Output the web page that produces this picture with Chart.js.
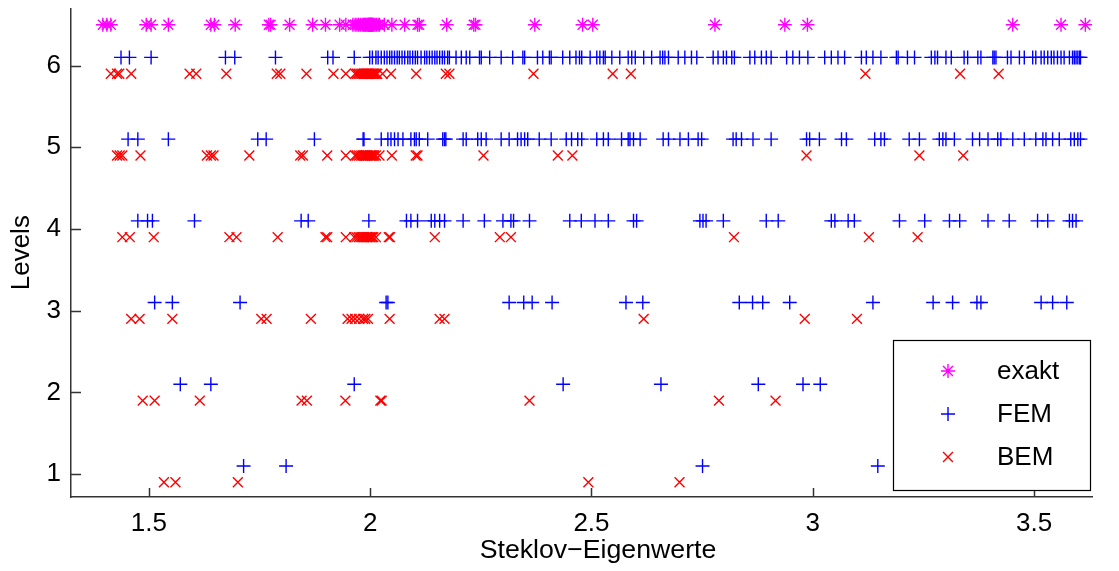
<!DOCTYPE html>
<html>
<head>
<meta charset="utf-8">
<script src="https://cdn.jsdelivr.net/npm/chart.js@4.4.1/dist/chart.umd.min.js"></script>
<style>
  html, body { margin: 0; padding: 0; background: #fff; }
  #wrap { width: 1119px; height: 571px; }
</style>
</head>
<body>
<div id="wrap"><canvas id="chart" width="1119" height="571"></canvas></div>
<script>
// tick labels
const xTicks = [1.5, 2, 2.5, 3, 3.5];
const yTicks = [1, 2, 3, 4, 5, 6];
const seriesNames = ['exakt', 'FEM', 'BEM'];
const xLabel = 'Steklov\u2212Eigenwerte';
const yLabel = 'Levels';

// rows: exact values sit at 6.5, FEM/BEM are shifted a bit above/below their level
const exaktLevel = 6.5;
const femShift = 0.1;
const bemShift = -0.1;

const exakt = [1.396, 1.405, 1.414, 1.494, 1.505, 1.544, 1.640, 1.648, 1.695, 1.771, 1.775, 1.818,
  1.870, 1.899, 1.931, 1.945, 1.961, 1.966, 1.970, 1.974, 1.978, 1.982, 1.985, 1.987, 1.989, 1.991,
  1.993, 1.995, 1.996, 1.997, 1.998, 1.999, 2.000, 2.001, 2.001, 2.002, 2.003, 2.004, 2.005, 2.006,
  2.008, 2.011, 2.014, 2.018, 2.021, 2.032, 2.049, 2.078, 2.107, 2.111, 2.173, 2.234, 2.238, 2.372,
  2.480, 2.503, 2.779, 2.937, 2.988, 3.452, 3.561, 3.616];

const fem6 = [1.437, 1.456, 1.505, 1.673, 1.694, 1.786, 1.904, 1.916, 1.964, 1.999, 2.005, 2.013,
  2.018, 2.025, 2.032, 2.038, 2.044, 2.049, 2.055, 2.061, 2.066, 2.072, 2.078, 2.085, 2.090, 2.096,
  2.102, 2.107, 2.115, 2.123, 2.128, 2.134, 2.140, 2.146, 2.151, 2.157, 2.163, 2.168, 2.175, 2.179,
  2.194, 2.206, 2.217, 2.225, 2.247, 2.251, 2.270, 2.296, 2.322, 2.345, 2.349, 2.378, 2.390, 2.405,
  2.409, 2.435, 2.451, 2.465, 2.473, 2.478, 2.497, 2.512, 2.519, 2.527, 2.531, 2.546, 2.564, 2.583,
  2.591, 2.599, 2.618, 2.636, 2.655, 2.661, 2.666, 2.674, 2.696, 2.711, 2.726, 2.738, 2.775, 2.786,
  2.798, 2.805, 2.817, 2.823, 2.858, 2.869, 2.884, 2.895, 2.906, 2.941, 2.955, 2.970, 2.989, 3.027,
  3.042, 3.057, 3.072, 3.110, 3.121, 3.136, 3.154, 3.189, 3.193, 3.214, 3.230, 3.268, 3.276, 3.282,
  3.301, 3.313, 3.342, 3.350, 3.373, 3.380, 3.407, 3.410, 3.414, 3.440, 3.448, 3.467, 3.478, 3.497,
  3.504, 3.516, 3.523, 3.531, 3.539, 3.545, 3.553, 3.561, 3.568, 3.580, 3.587, 3.591, 3.595, 3.599,
  3.603, 3.605];
const fem5 = [1.453, 1.475, 1.544, 1.746, 1.765, 1.874, 1.984, 1.986, 2.025, 2.040, 2.047, 2.055,
  2.063, 2.074, 2.092, 2.100, 2.104, 2.111, 2.130, 2.164, 2.168, 2.171, 2.210, 2.217, 2.243, 2.251,
  2.262, 2.296, 2.314, 2.333, 2.341, 2.349, 2.356, 2.382, 2.409, 2.443, 2.455, 2.469, 2.478, 2.512,
  2.527, 2.538, 2.568, 2.583, 2.587, 2.595, 2.610, 2.662, 2.674, 2.700, 2.719, 2.741, 2.749, 2.820,
  2.827, 2.839, 2.865, 2.906, 2.986, 2.993, 3.015, 3.065, 3.076, 3.140, 3.154, 3.162, 3.218, 3.241,
  3.286, 3.294, 3.301, 3.320, 3.361, 3.377, 3.396, 3.418, 3.425, 3.452, 3.478, 3.504, 3.520, 3.527,
  3.542, 3.557, 3.583, 3.591, 3.599, 3.605];
const fem4 = [1.475, 1.497, 1.508, 1.603, 1.844, 1.860, 1.997, 2.082, 2.092, 2.107, 2.138, 2.146,
  2.157, 2.168, 2.210, 2.258, 2.300, 2.318, 2.324, 2.360, 2.451, 2.477, 2.508, 2.538, 2.595, 2.602,
  2.745, 2.752, 2.759, 2.798, 2.895, 2.922, 3.042, 3.050, 3.080, 3.094, 3.196, 3.253, 3.309, 3.332,
  3.396, 3.444, 3.508, 3.531, 3.580, 3.587, 3.595];
const fem3 = [1.513, 1.553, 1.706, 2.036, 2.040, 2.314, 2.347, 2.366, 2.411, 2.578, 2.616, 2.834,
  2.864, 2.887, 2.948, 3.136, 3.272, 3.316, 3.371, 3.380, 3.516, 3.542, 3.574];
const fem2 = [1.571, 1.640, 1.964, 2.436, 2.657, 2.877, 2.978, 3.017];
const fem1 = [1.714, 1.810, 2.751, 3.147];

const bem6 = [1.414, 1.428, 1.433, 1.460, 1.592, 1.607, 1.675, 1.789, 1.797, 1.856, 1.917, 1.945,
  1.966, 1.970, 1.974, 1.978, 1.982, 1.985, 1.988, 1.991, 1.993, 1.995, 1.997, 1.999, 2.001, 2.003,
  2.005, 2.007, 2.010, 2.013, 2.016, 2.028, 2.047, 2.104, 2.171, 2.179, 2.369, 2.548, 2.589, 3.119,
  3.333, 3.420];
const bem5 = [1.428, 1.434, 1.440, 1.481, 1.631, 1.640, 1.646, 1.727, 1.842, 1.848, 1.903, 1.945,
  1.966, 1.970, 1.975, 1.980, 1.984, 1.988, 1.990, 1.993, 1.996, 1.999, 2.001, 2.004, 2.006, 2.009,
  2.013, 2.021, 2.049, 2.103, 2.107, 2.256, 2.424, 2.457, 2.986, 3.241, 3.340];
const bem4 = [1.440, 1.457, 1.511, 1.682, 1.698, 1.791, 1.899, 1.903, 1.945, 1.964, 1.969, 1.974,
  1.978, 1.982, 1.986, 1.990, 1.993, 1.996, 1.999, 2.001, 2.004, 2.007, 2.013, 2.042, 2.045, 2.146,
  2.293, 2.318, 2.822, 3.127, 3.237];
const bem3 = [1.460, 1.479, 1.553, 1.754, 1.766, 1.866, 1.949, 1.958, 1.966, 1.975, 1.984, 1.989,
  1.995, 2.044, 2.157, 2.168, 2.618, 2.982, 3.100];
const bem2 = [1.486, 1.513, 1.615, 1.845, 1.857, 1.944, 2.023, 2.026, 2.360, 2.788, 2.916];
const bem1 = [1.534, 1.560, 1.701, 2.493, 2.699];

const FONT = "'Liberation Sans', Arial, Helvetica, sans-serif";
const axisColor = '#333333';
const colors = ['#ff00ff', '#0000ff', '#ff0000'];
const styles = ['star', 'cross', 'crossRot'];

const femLevels = [fem1, fem2, fem3, fem4, fem5, fem6];
const bemLevels = [bem1, bem2, bem3, bem4, bem5, bem6];

function toPoints(levels, shift) {
    const pts = [];
    levels.forEach((vals, i) => {
        vals.forEach(v => pts.push({ x: v, y: yTicks[i] + shift }));
    });
    return pts;
}

const datasets = [
    { label: seriesNames[0], data: exakt.map(v => ({ x: v, y: exaktLevel })) },
    { label: seriesNames[1], data: toPoints(femLevels, femShift) },
    { label: seriesNames[2], data: toPoints(bemLevels, bemShift) }
].map((d, i) => Object.assign(d, {
    pointStyle: styles[i],
    pointRadius: 7,
    pointBorderColor: colors[i],
    pointBackgroundColor: colors[i],
    pointBorderWidth: 1.4,
    showLine: false
}));

function drawMarker(ctx, style, x, y, r) {
    ctx.beginPath();
    if (style === 'cross' || style === 'star') {
        ctx.moveTo(x - r, y); ctx.lineTo(x + r, y);
        ctx.moveTo(x, y - r); ctx.lineTo(x, y + r);
    }
    if (style === 'crossRot' || style === 'star') {
        const o = r * Math.SQRT1_2;
        ctx.moveTo(x - o, y - o); ctx.lineTo(x + o, y + o);
        ctx.moveTo(x - o, y + o); ctx.lineTo(x + o, y - o);
    }
    ctx.stroke();
}

// MATLAB style ticks pointing into the plot, plus the x label
// (MATLAB centres it a bit right of the visible axis)
const innerTicks = {
    id: 'innerTicks',
    afterDraw(chart) {
        const { ctx, chartArea: a, scales: { x, y } } = chart;
        ctx.save();
        ctx.strokeStyle = axisColor;
        ctx.lineWidth = 1.5;
        ctx.beginPath();
        xTicks.forEach(v => {
            const px = Math.round(x.getPixelForValue(v)) + 0.5;
            ctx.moveTo(px, a.bottom); ctx.lineTo(px, a.bottom - 9);
        });
        yTicks.forEach(v => {
            const py = Math.round(y.getPixelForValue(v)) + 0.5;
            ctx.moveTo(a.left, py); ctx.lineTo(a.left + 10, py);
        });
        ctx.stroke();
        ctx.fillStyle = '#000';
        ctx.font = '26.7px ' + FONT;
        ctx.textAlign = 'center';
        ctx.textBaseline = 'middle';
        ctx.fillText(xLabel, 598, 551);
        ctx.restore();
    }
};

// legend box inside the plot, bottom right
const boxLegend = {
    id: 'boxLegend',
    afterDraw(chart) {
        const ctx = chart.ctx;
        const box = { l: 893, t: 340, r: 1090, b: 490 };
        ctx.save();
        ctx.fillStyle = '#fff';
        ctx.fillRect(box.l, box.t, box.r - box.l, box.b - box.t);
        ctx.strokeStyle = '#000';
        ctx.lineWidth = 1.2;
        ctx.strokeRect(box.l + 0.5, box.t + 0.5, box.r - box.l, box.b - box.t);
        ctx.font = '26px ' + FONT;
        ctx.textBaseline = 'middle';
        ctx.textAlign = 'left';
        seriesNames.forEach((name, i) => {
            const y = 371 + i * 43;
            ctx.strokeStyle = colors[i];
            ctx.lineWidth = 1.4;
            drawMarker(ctx, styles[i], 948, y, 7);
            ctx.fillStyle = '#000';
            ctx.fillText(name, 997, y + 1);
        });
        ctx.restore();
    }
};

new Chart(document.getElementById('chart'), {
    type: 'scatter',
    data: { datasets },
    options: {
        responsive: false,
        animation: false,
        devicePixelRatio: 1,
        layout: { padding: { top: 8, right: 27, left: 0, bottom: 0 } },
        plugins: { legend: { display: false }, tooltip: { enabled: false } },
        scales: {
            x: {
                type: 'linear',
                min: 1.324,
                max: 3.631,
                afterBuildTicks: s => { s.ticks = xTicks.map(v => ({ value: v })); },
                afterFit: s => { s.height = 74; s.paddingLeft = 0; s.paddingRight = 0; },
                grid: { display: false, drawTicks: false },
                border: { display: true, color: axisColor, width: 1.5 },
                ticks: {
                    font: { family: FONT, size: 26 },
                    color: '#000',
                    padding: 11,
                    maxRotation: 0,
                    autoSkip: false,
                    callback: v => String(v)
                },
                title: { display: false }
            },
            y: {
                type: 'linear',
                min: 0.72,
                max: 6.7,
                afterBuildTicks: s => { s.ticks = yTicks.map(v => ({ value: v })); },
                afterFit: s => { s.width = 71; s.paddingTop = 0; s.paddingBottom = 0; },
                grid: { display: false, drawTicks: false },
                border: { display: true, color: axisColor, width: 1.5 },
                ticks: {
                    font: { family: FONT, size: 26 },
                    color: '#000',
                    padding: 10,
                    autoSkip: false,
                    callback: v => String(v)
                },
                title: {
                    display: true,
                    text: yLabel,
                    font: { family: FONT, size: 26 },
                    color: '#000',
                    padding: { top: 6, bottom: 0 }
                }
            }
        }
    },
    plugins: [innerTicks, boxLegend]
});
</script>
</body>
</html>
